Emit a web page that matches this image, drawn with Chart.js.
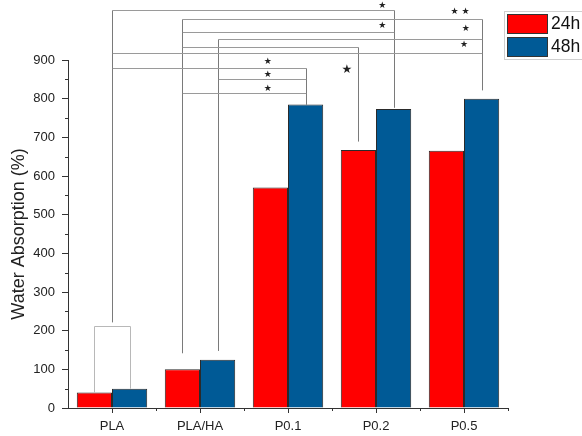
<!DOCTYPE html>
<html><head><meta charset="utf-8">
<script src="https://cdn.jsdelivr.net/npm/chart.js@4"></script>
<style>html,body{margin:0;padding:0;background:#fff}canvas{display:block}</style>
</head><body>
<canvas id="c" width="582" height="436"></canvas>
<script>
// ---- data ----
const categories = ['PLA', 'PLA/HA', 'P0.1', 'P0.2', 'P0.5'];
const seriesLabels = ['24h', '48h'];
const values24h = [40, 100, 570, 667, 665];
const values48h = [50, 125, 785, 773, 800];
const yTickValues = [0, 100, 200, 300, 400, 500, 600, 700, 800, 900];
const yTitle = 'Water Absorption (%)';

// significance endpoints: [category index, series index (-1 = whole group), lower end value]
const endpoints = {
  PLA:     [0, -1, 222],
  PLAHA24: [1, 0, 142],
  PLAHA48: [1, 1, 148],
  P01_48:  [2, 1, 785],
  P02_24:  [3, 0, 689],
  P02_48:  [3, 1, 777],
  P05_48:  [4, 1, 822]
};
const bracketFrom  = ['PLA', 'PLAHA24', 'PLAHA24', 'PLAHA48', 'PLAHA24', 'PLA', 'PLA', 'PLAHA48', 'PLAHA24'];
const bracketTo    = ['P02_48', 'P05_48', 'P02_48', 'P05_48', 'P02_24', 'P05_48', 'P01_48', 'P01_48', 'P01_48'];
const bracketLevel = [1029, 1005, 973, 954, 933, 919, 880, 850, 815];
const starText     = ['★', '★ ★', '★', '★', '★', '★', '★', '★', '★'];
const starCategory = [3.07, 3.955, 3.07, 4.02, 2.67, 4.0, 1.77, 1.77, 1.77];
const starValue    = [1040, 1025, 990, 980, 874, 939, 897, 861, 827];
const plaPairLevel = 213;

const RED = '#ff0000', BLUE = '#005a96';
const FONT = '"Liberation Sans", Arial, sans-serif';

function line(ctx, x1, y1, x2, y2) {
  ctx.beginPath(); ctx.moveTo(x1, y1); ctx.lineTo(x2, y2); ctx.stroke();
}
const crisp = v => Math.round(v) + 0.5;

const annot = {
  id: 'annot',
  afterDatasetsDraw(chart) {
    const { ctx, scales: { x, y }, chartArea } = chart;
    const meta = i => chart.getDatasetMeta(i);
    const px = ep => ep[1] < 0 ? x.getPixelForValue(ep[0]) : meta(ep[1]).data[ep[0]].x;
    ctx.save();
    ctx.lineWidth = 1;

    // minor ticks
    ctx.strokeStyle = '#333';
    for (let v = 50; v < 900; v += 100) {
      const yy = crisp(y.getPixelForValue(v));
      line(ctx, chartArea.left - 3, yy, chartArea.left, yy);
    }
    for (let c = 0.5; c < categories.length; c += 1) {
      const xx = crisp(x.getPixelForValue(c));
      line(ctx, xx, chartArea.bottom, xx, chartArea.bottom + 3);
    }

    // PLA 24h vs 48h bracket
    const r = meta(0).data[0], b = meta(1).data[0];
    const hy = crisp(y.getPixelForValue(plaPairLevel));
    ctx.strokeStyle = '#b8b8b8';
    line(ctx, crisp(r.x), r.y, crisp(r.x), hy);
    line(ctx, crisp(r.x), hy, crisp(b.x), hy);
    line(ctx, crisp(b.x), hy, crisp(b.x), b.y);

    // comparison brackets
    for (let i = 0; i < bracketLevel.length; i++) {
      const a = endpoints[bracketFrom[i]], c = endpoints[bracketTo[i]];
      const h = crisp(y.getPixelForValue(bracketLevel[i]));
      const ax = crisp(px(a)), cx = crisp(px(c));
      ctx.strokeStyle = '#9a9a9a';
      line(ctx, ax, h, cx, h);
      ctx.strokeStyle = '#7a7a7a';
      line(ctx, ax, h, ax, y.getPixelForValue(a[2]));
      line(ctx, cx, h, cx, y.getPixelForValue(c[2]));
    }
    // stars
    ctx.fillStyle = '#222';
    ctx.textAlign = 'center';
    ctx.textBaseline = 'middle';
    for (let i = 0; i < starText.length; i++) {
      ctx.font = (i === 4 ? 12 : 9) + 'px "DejaVu Sans"';
      ctx.fillText(starText[i], x.getPixelForValue(starCategory[i]), y.getPixelForValue(starValue[i]));
    }
    ctx.restore();
  },
  afterDraw(chart) {
    const { ctx, chartArea } = chart;
    const lx = chartArea.right - 4, ly = 11;
    ctx.save();
    ctx.strokeStyle = '#cfcfcf';
    ctx.lineWidth = 1;
    ctx.strokeRect(lx + 0.5, ly + 0.5, 120, 48);
    ctx.font = '17.5px ' + FONT;
    ctx.textAlign = 'left';
    ctx.textBaseline = 'middle';
    chart.data.datasets.forEach((ds, i) => {
      const sy = ly + 3 + i * 23;
      ctx.fillStyle = ds.backgroundColor;
      ctx.fillRect(lx + 3, sy, 40, 19);
      ctx.strokeStyle = '#333';
      ctx.strokeRect(lx + 3.5, sy + 0.5, 40, 19);
      ctx.fillStyle = '#111';
      ctx.fillText(ds.label, lx + 47, sy + 10.5);
    });
    ctx.restore();
  }
};

new Chart(document.getElementById('c'), {
  type: 'bar',
  data: {
    labels: categories,
    datasets: [
      { label: seriesLabels[0], data: values24h, backgroundColor: RED, borderColor: '#2a2a2a', borderWidth: 1 },
      { label: seriesLabels[1], data: values48h, backgroundColor: BLUE, borderColor: '#2a2a2a', borderWidth: 1 }
    ]
  },
  options: {
    responsive: false,
    animation: false,
    devicePixelRatio: 1,
    categoryPercentage: 0.8,
    barPercentage: 1.0,
    layout: { padding: { top: 60, right: 74, left: 0, bottom: 0 } },
    plugins: { legend: { display: false }, tooltip: { enabled: false } },
    scales: {
      x: {
        afterFit: s => { s.height = 28; },
        grid: { display: true, drawOnChartArea: false, offset: false, tickLength: 5, color: '#333' },
        border: { display: true, color: '#333', width: 1 },
        ticks: { color: '#222', font: { family: FONT, size: 13 }, padding: 6 }
      },
      y: {
        min: 0, max: 900,
        afterFit: s => { s.width = 68; },
        afterBuildTicks: s => { s.ticks = yTickValues.map(v => ({ value: v })); },
        grid: { display: true, drawOnChartArea: false, tickLength: 6, color: '#333' },
        border: { display: true, color: '#333', width: 1 },
        ticks: { color: '#222', font: { family: FONT, size: 13 }, padding: 7 },
        title: { display: true, text: yTitle, color: '#222', font: { family: FONT, size: 18 }, padding: { top: 8, bottom: 0 } }
      }
    }
  },
  plugins: [annot]
});
</script>
</body></html>
